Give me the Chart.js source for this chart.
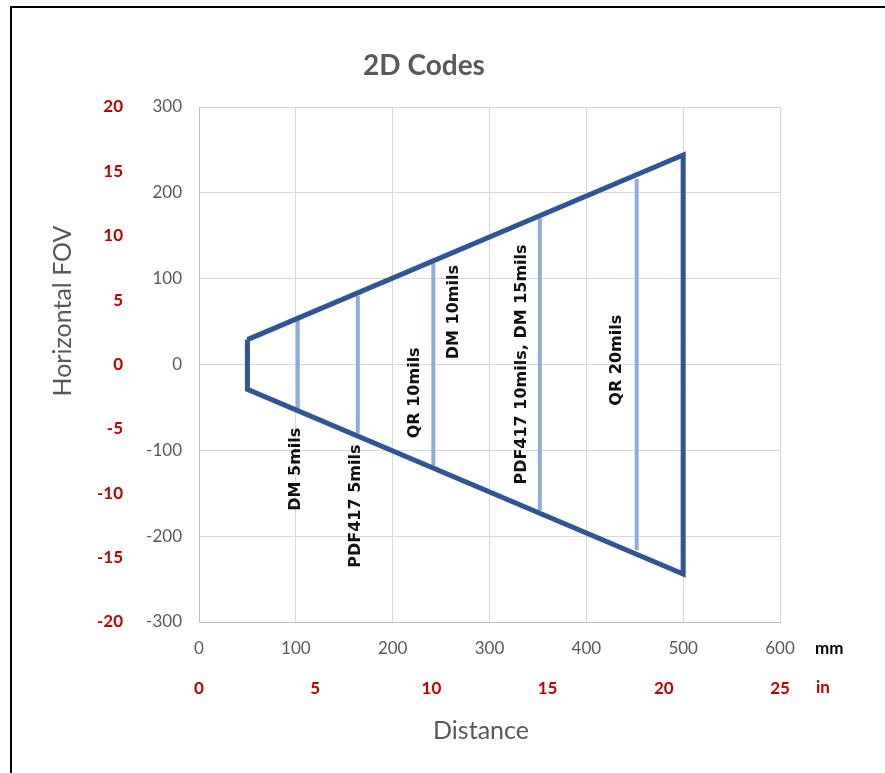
<!DOCTYPE html>
<html>
<head>
<meta charset="utf-8">
<script src="https://cdn.jsdelivr.net/npm/chart.js@4/dist/chart.umd.min.js"></script>
<style>
  html, body { margin: 0; padding: 0; background: #fff; overflow: hidden; }
  #wrap { position: relative; width: 885px; height: 773px; }
  #frame { position: absolute; left: 10px; top: 6px; width: 900px; height: 800px; border: 2px solid #000; pointer-events: none; }
</style>
</head>
<body>
<div id="wrap">
  <canvas id="fov"></canvas>
  <div id="frame"></div>
</div>
<script>
// field of view outline (mm)
const outlineX = [50, 500, 500, 50, 50];
const outlineY = [29, 244, -244, -29, 29];

// code reading ranges: distance and half-width (mm)
const codeX = [102, 164, 242, 352, 452];
const codeHalf = [53, 80, 118, 170, 216];

// labels for the codes and where they sit (data units)
const codeLabels = ["DM 5mils", "PDF417 5mils", "QR 10mils", "DM 10mils", "PDF417 10mils, DM 15mils", "QR 20mils"];
const labelX = [100, 162, 223, 263, 333, 432];
const labelY = [-122, -165, -33, 61, 0, 5];

const DARK = "#2f5597";
const LIGHT = "#8faadc";
const GREY = "#595959";
const RED = "#c00000";

const datasets = [
    {
        data: outlineX.map((x, i) => ({ x, y: outlineY[i] })),
        borderColor: DARK,
        borderWidth: 5,
        showLine: true,
        pointRadius: 0,
        borderJoinStyle: "miter",
    },
];
codeX.forEach((x, i) => {
    datasets.push({
        data: [{ x, y: codeHalf[i] }, { x, y: -codeHalf[i] }],
        borderColor: LIGHT,
        borderWidth: 4,
        showLine: true,
        pointRadius: 0,
    });
});

const annotate = {
    id: "annotate",
    afterDatasetsDraw(chart) {
        const { ctx, scales: { x, y } } = chart;
        ctx.save();
        ctx.fillStyle = "#111";
        ctx.font = 'bold 16px "DejaVu Sans"';
        ctx.textAlign = "center";
        ctx.textBaseline = "middle";
        codeLabels.forEach((t, i) => {
            ctx.save();
            ctx.translate(x.getPixelForValue(labelX[i]), y.getPixelForValue(labelY[i]));
            ctx.rotate(-Math.PI / 2);
            ctx.fillText(t, 0, 0);
            ctx.restore();
        });

        // titles
        ctx.fillStyle = GREY;
        ctx.font = "bold 28px Lato";
        ctx.fillText("2D Codes", 424, 66);
        ctx.font = "25px Lato";
        ctx.fillText("Distance", 481, 731);
        ctx.save();
        ctx.translate(63, 311);
        ctx.rotate(-Math.PI / 2);
        ctx.fillText("Horizontal FOV", 0, 0);
        ctx.restore();

        // units
        ctx.textAlign = "left";
        ctx.font = "bold 17px Lato";
        ctx.fillStyle = "#000";
        ctx.fillText("mm", 815, 649);
        ctx.fillStyle = RED;
        ctx.fillText("in", 816, 688);
        ctx.restore();
    },
};

const config = {
    type: "scatter",
    data: { datasets },
    options: {
        responsive: true,
        maintainAspectRatio: false,
        animation: false,
        layout: { padding: { left: 79, right: 105, top: 107, bottom: 61 } },
        plugins: { legend: { display: false }, tooltip: { enabled: false }, title: { display: false } },
        scales: {
            x: {
                type: "linear",
                position: "bottom",
                weight: 0,
                min: 0,
                max: 600,
                ticks: { stepSize: 100, color: GREY, font: { family: "Lato", size: 17 }, padding: 16, maxRotation: 0 },
                grid: { color: "#d9d9d9", drawTicks: false },
                border: { color: "#bfbfbf" },
                afterFit: (s) => { s.height = 45; },
            },
            xIn: {
                type: "linear",
                position: "bottom",
                weight: 1,
                min: 0,
                max: 25,
                ticks: { stepSize: 5, color: RED, font: { family: "Lato", size: 17, weight: "bold" }, padding: 11, maxRotation: 0 },
                grid: { display: false, drawTicks: false },
                border: { display: false },
                afterFit: (s) => { s.height = 45; },
            },
            y: {
                type: "linear",
                position: "left",
                weight: 0,
                min: -300,
                max: 300,
                ticks: { stepSize: 100, color: GREY, font: { family: "Lato", size: 17 }, padding: 17 },
                grid: { color: "#d9d9d9", drawTicks: false },
                border: { color: "#bfbfbf" },
                afterFit: (s) => { s.width = 60; },
            },
            yIn: {
                type: "linear",
                position: "left",
                weight: 1,
                min: -20,
                max: 20,
                ticks: { stepSize: 5, color: RED, font: { family: "Lato", size: 17, weight: "bold" }, padding: 16 },
                grid: { display: false, drawTicks: false },
                border: { display: false },
                afterFit: (s) => { s.width = 60; },
            },
        },
    },
    plugins: [annotate],
};

const ctx = document.getElementById("fov").getContext("2d");
const chart = new Chart(ctx, config);
</script>
</body>
</html>
